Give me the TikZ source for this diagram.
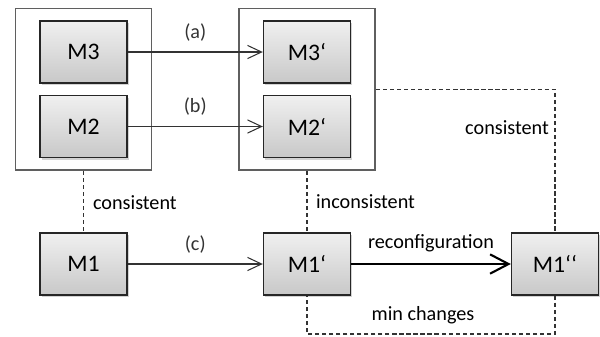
\documentclass[tikz,border=0pt]{standalone}
\usepackage{fontspec}
\setmainfont{Carlito}
\usepackage{xcolor}
\usepackage{tikz}
\usetikzlibrary{arrows.meta, positioning, calc, fit, shadows}
\definecolor{BoxTop}{RGB}{240, 240, 240}
\definecolor{BoxBottom}{RGB}{200, 200, 200}
\definecolor{EdgeGray}{RGB}{51, 51, 51}
\definecolor{FrameGray}{RGB}{95, 95, 95}

\begin{document}
\begin{tikzpicture}[
  x=0.02cm, y=-0.02cm,
  md/.style={rectangle, draw=black!85, line width=0.8pt,
             top color=BoxTop, bottom color=BoxBottom,
             minimum width=1.74cm, minimum height=1.24cm,
             font=\fontsize{13.5}{16}\selectfont,
             drop shadow={shadow xshift=1pt, shadow yshift=-1.2pt,
                          fill=black!50, opacity=0.35}},
  grp/.style={rectangle, draw=FrameGray, line width=0.9pt,
              inner xsep=0.48cm, inner ysep=0.24cm},
  ar/.style={-{Straight Barb[length=8pt, width=7.5pt]}, color=EdgeGray, line width=0.6pt},
  arbig/.style={-{Straight Barb[length=10.5pt, width=11pt, line width=1.2pt]}, color=black, line width=1.3pt},
  dsh/.style={dash pattern=on 2.4pt off 1.6pt, color=black!80, line width=0.6pt},
  lb/.style={font=\fontsize{11.5}{14}\selectfont, inner sep=1pt}
]
  \useasboundingbox (0,0) rectangle (600,336);

  % ---- models (top)----
  \node[md] (m3)  at (83.5,52)    {M3};
  \node[md] (m2)  at (83.5,126.5) {M2};
  \node[md] (m3p) at (307,52)     {M3‘};
  \node[md] (m2p) at (307,126.5)  {M2‘};
  \node[grp, fit=(m3)(m2)]   (lgrp) {};
  \node[grp, fit=(m3p)(m2p)] (rgrp) {};

  % ---- models (bottom)----
  \node[md] (m1)   at (83.5,264) {M1};
  \node[md] (m1p)  at (307,264)  {M1‘};
  \node[md] (m1pp) at (555,264)  {M1‘‘};
  \coordinate (bot) at (555,334);

  % evolution steps
  \draw[ar] (m3) -- node[lb, above=5pt] {(a)} (m3p);
  \draw[ar] (m2) -- node[lb, above=5pt] {(b)} (m2p);
  \draw[ar] (m1) -- node[lb, above=5pt] {(c)} (m1p);
  \draw[arbig] (m1p) -- node[lb, above=5pt] {reconfiguration} (m1pp);

  % consistency relations
  \draw[dsh] (lgrp.south) -- (m1.north);
  \draw[dsh] (rgrp.south) -- (m1p.north);
  \draw[dsh] (rgrp.east) -- (rgrp.east -| m1pp) -- (m1pp.north);
  \draw[dsh] (m1pp.south) -- (bot) -| (m1p.south);

  \node[lb, anchor=west] (cl) at (91,203)  {consistent};
  \node[lb, anchor=west] (ic) at (314,202) {inconsistent};
  \node[lb, anchor=east] (cr) at (551,128) {consistent};
  \node[lb] (mc) at (423,315) {min changes};
\end{tikzpicture}
\end{document}
